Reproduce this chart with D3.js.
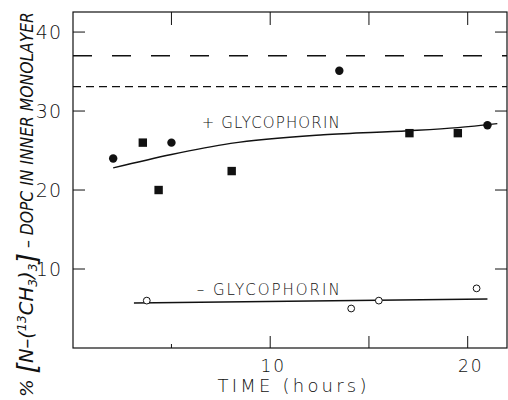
<!DOCTYPE html>
<html lang="en">
<head>
  <meta charset="UTF-8" />
  <title>Glycophorin transbilayer distribution</title>
  <style>
    html, body { margin: 0; padding: 0; background: #fff; }
    svg { display: block; }
    .tick-label { font-family: "DejaVu Sans", sans-serif; font-weight: 200; fill: #111; }
    .series-label { font-family: "DejaVu Sans", sans-serif; font-weight: 200; fill: #111; }
    .axis-title { font-family: "DejaVu Sans", sans-serif; font-weight: 200; font-style: italic; fill: #111; }
  </style>
</head>
<body>
  <svg width="508" height="400"></svg>
  <script src="https://d3js.org/d3.v7.min.js"></script>
  <script>
    // values
    const closedCircleTime = [2.05, 5.0, 13.5, 21.0];
    const closedCircleValue = [24.0, 26.0, 35.1, 28.2];
    const closedSquareTime = [3.55, 4.35, 8.05, 17.05, 19.5];
    const closedSquareValue = [26.0, 20.0, 22.4, 27.2, 27.2];
    const openCircleTime = [3.75, 14.1, 15.5, 20.45];
    const openCircleValue = [6.0, 5.0, 6.0, 7.55];
    const fitWithTime = [2.05, 5.0, 8.0, 12.7, 17.0, 19.5, 21.5];
    const fitWithValue = [22.8, 24.5, 25.9, 27.0, 27.5, 27.9, 28.4];
    const fitWithoutTime = [3.1, 21.0];
    const fitWithoutValue = [5.7, 6.2];
    const referenceLevels = [37.0, 33.1];
    const xTicks = [5, 10, 15, 20];
    const xTickLabels = [10, 20];
    const yTicks = [10, 20, 30, 40];

    const svg = d3.select("svg");
    const frameL = 73, frameR = 507, frameT = 12, frameB = 348;

    const x = d3.scaleLinear().domain([0, 22]).range([72.7, 507.2]);
    const y = d3.scaleLinear().domain([0, 42.5]).range([348, 12.3]);

    const ink = "#111";

    // frame
    svg.append("rect")
      .attr("x", frameL).attr("y", frameT)
      .attr("width", frameR - frameL).attr("height", frameB - frameT)
      .attr("fill", "none").attr("stroke", ink).attr("stroke-width", 1.2);

    // ticks (all pointing inward)
    const tickG = svg.append("g").attr("stroke", ink).attr("stroke-width", 1);
    tickG.selectAll(".xb").data(xTicks).join("line")
      .attr("x1", d => x(d)).attr("x2", d => x(d))
      .attr("y1", frameB).attr("y2", d => frameB - (d === 5 ? 4 : 12));
    tickG.selectAll(".xt").data(xTicks).join("line")
      .attr("x1", d => x(d)).attr("x2", d => x(d))
      .attr("y1", frameT).attr("y2", frameT + 13);
    tickG.selectAll(".yl").data(yTicks).join("line")
      .attr("y1", d => y(d)).attr("y2", d => y(d))
      .attr("x1", frameL).attr("x2", frameL + 12);
    tickG.selectAll(".yr").data(yTicks).join("line")
      .attr("y1", d => y(d)).attr("y2", d => y(d))
      .attr("x1", frameR).attr("x2", frameR - 12);

    // tick labels
    svg.append("g").selectAll("text").data(xTickLabels).join("text")
      .attr("class", "tick-label")
      .attr("x", d => x(d) + 3).attr("y", 372)
      .attr("text-anchor", "middle")
      .attr("font-size", 17).attr("letter-spacing", 2)
      .text(d => d);
    svg.append("g").selectAll("text").data(yTicks).join("text")
      .attr("class", "tick-label")
      .attr("x", 62).attr("y", d => y(d) + 7)
      .attr("text-anchor", "end")
      .attr("font-size", 19).attr("letter-spacing", 1)
      .text(d => d);

    // x title
    svg.append("text")
      .attr("class", "tick-label")
      .attr("x", 292).attr("y", 392)
      .attr("text-anchor", "middle")
      .attr("font-size", 18)
      .attr("textLength", 149)
      .text("TIME (hours)");

    // y title: formula part, then plain part
    const yf = svg.append("text")
      .attr("class", "axis-title")
      .attr("transform", "translate(33,397) rotate(-90)")
      .attr("textLength", 144)
      .attr("lengthAdjust", "spacingAndGlyphs");
    yf.append("tspan").attr("font-size", 18).text("% ");
    yf.append("tspan").attr("font-size", 26).attr("dy", 3).text("[");
    yf.append("tspan").attr("font-size", 19).attr("dy", -3).text("N–(");
    yf.append("tspan").attr("font-size", 12).attr("dy", -7).text("13");
    yf.append("tspan").attr("font-size", 19).attr("dy", 7).text("CH");
    yf.append("tspan").attr("font-size", 12).attr("dy", 4).text("3");
    yf.append("tspan").attr("font-size", 19).attr("dy", -4).text(")");
    yf.append("tspan").attr("font-size", 12).attr("dy", 4).text("3");
    yf.append("tspan").attr("font-size", 26).attr("dy", -1).text("]");

    // plain part: squeezed along its run to fit the available height
    const yp = svg.append("text")
      .attr("class", "axis-title")
      .attr("font-size", 17)
      .text("– DOPC  IN INNER  MONOLAYER");
    const natural = yp.node().getComputedTextLength();
    const squeeze = 236 / natural;
    yp.attr("transform", `translate(33,248) rotate(-90) scale(${squeeze},1)`);

    // dashed reference lines
    svg.append("g").selectAll("line").data(referenceLevels).join("line")
      .attr("x1", frameL).attr("x2", frameR)
      .attr("y1", d => y(d)).attr("y2", d => y(d))
      .attr("stroke", ink).attr("stroke-width", 1.3)
      .attr("stroke-dasharray", (d, i) => i === 0 ? "19,20" : "8,5");

    // fitted curves
    const line = d3.line().x(d => x(d[0])).y(d => y(d[1])).curve(d3.curveMonotoneX);
    svg.append("path")
      .datum(d3.zip(fitWithTime, fitWithValue))
      .attr("d", line)
      .attr("fill", "none").attr("stroke", ink).attr("stroke-width", 1.4);
    svg.append("path")
      .datum(d3.zip(fitWithoutTime, fitWithoutValue))
      .attr("d", line)
      .attr("fill", "none").attr("stroke", ink).attr("stroke-width", 1.4);

    // markers
    svg.append("g").selectAll("circle").data(d3.zip(closedCircleTime, closedCircleValue)).join("circle")
      .attr("cx", d => x(d[0])).attr("cy", d => y(d[1])).attr("r", 4.2)
      .attr("fill", ink);
    svg.append("g").selectAll("rect").data(d3.zip(closedSquareTime, closedSquareValue)).join("rect")
      .attr("x", d => x(d[0]) - 4.2).attr("y", d => y(d[1]) - 4.2)
      .attr("width", 8.4).attr("height", 8.4)
      .attr("fill", ink);
    svg.append("g").selectAll("circle").data(d3.zip(openCircleTime, openCircleValue)).join("circle")
      .attr("cx", d => x(d[0])).attr("cy", d => y(d[1])).attr("r", 3.4)
      .attr("fill", "#fff").attr("stroke", ink).attr("stroke-width", 1);

    // series labels
    svg.append("text").attr("class", "series-label")
      .attr("x", 201.7).attr("y", 127.5)
      .attr("font-size", 15).attr("textLength", 138)
      .text("+ GLYCOPHORIN");
    svg.append("text").attr("class", "series-label")
      .attr("x", 196.7).attr("y", 295)
      .attr("font-size", 15).attr("textLength", 143)
      .text("– GLYCOPHORIN");
  </script>
</body>
</html>
